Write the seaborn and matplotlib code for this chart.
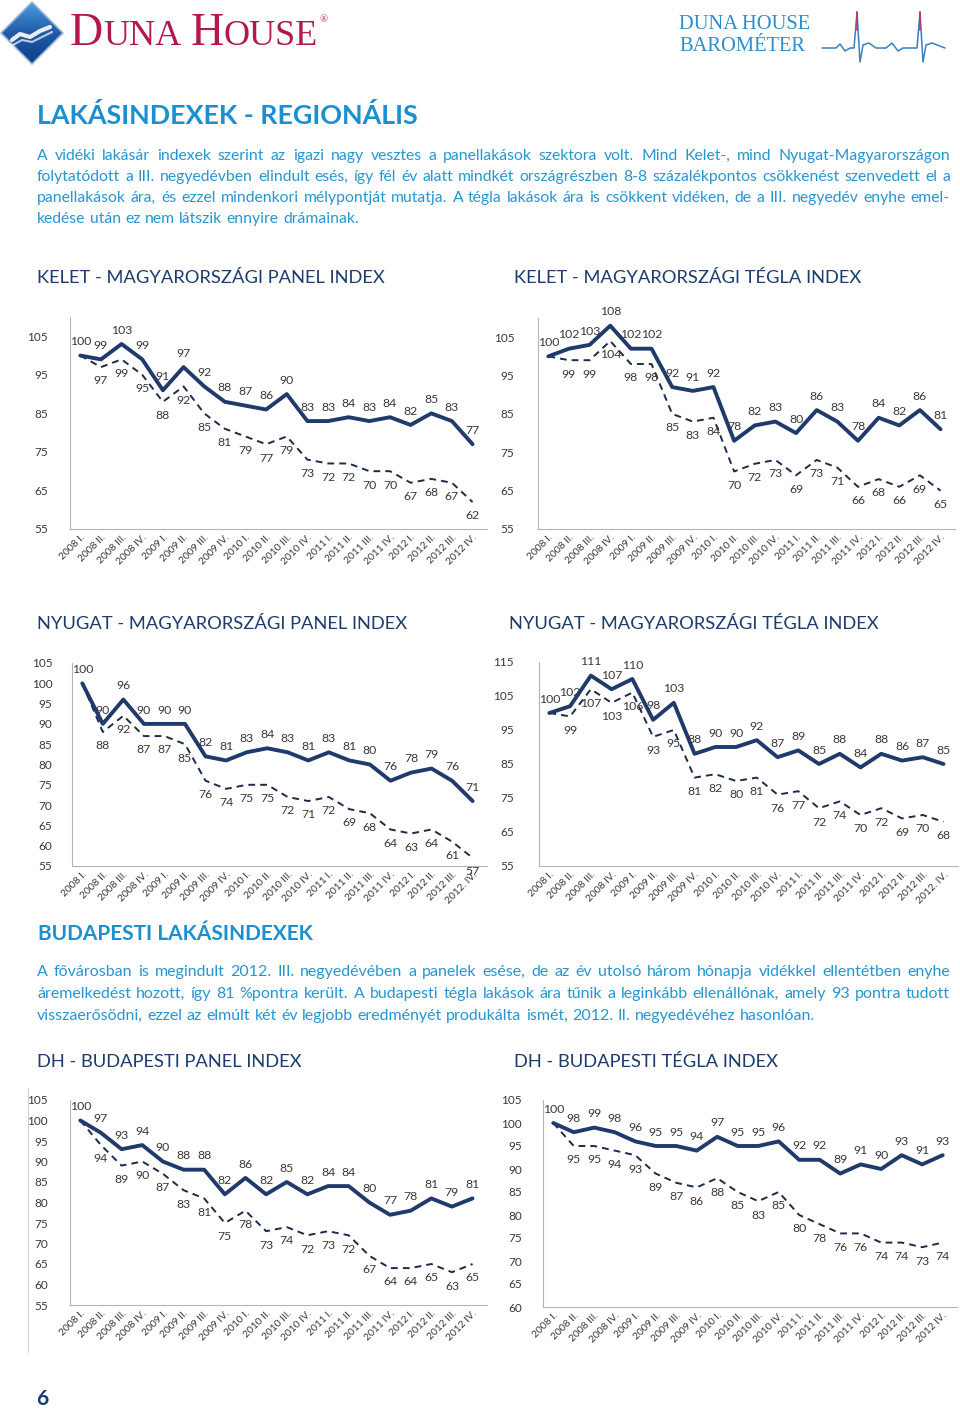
"""Duna House Barométer - regionális és budapesti lakásindexek (6. oldal)."""

import matplotlib

matplotlib.use("Agg")
import matplotlib.pyplot as plt
import numpy as np
import pandas as pd
import seaborn as sns
from matplotlib.lines import Line2D
from matplotlib.patches import Polygon

W, H = 960, 1409

NAVY = "#1f3a6b"
DASH = "#1c2b4a"
LABEL = "#383838"
TITLE_BLUE = "#1b8fd0"
TEXT_BLUE = "#2596d2"
SECTION = "#1d3b6d"
CRIMSON = "#b3174e"

QUARTERS = [
    "2008 I.", "2008 II.", "2008 III.", "2008 IV.",
    "2009 I.", "2009 II.", "2009 III.", "2009 IV.",
    "2010 I.", "2010 II.", "2010 III.", "2010 IV.",
    "2011 I.", "2011 II.", "2011 III.", "2011 IV.",
    "2012 I.", "2012 II.", "2012 III.", "2012 IV.",
]
QUARTERS_ALT = QUARTERS[:-1] + ["2012. IV."]

# Kelet-Magyarország
east_panel_solid = [100, 99, 103, 99, 91, 97, 92, 88, 87, 86, 90, 83, 83, 84, 83, 84, 82, 85, 83, 77]
east_panel_dashed = [100, 97, 99, 95, 88, 92, 85, 81, 79, 77, 79, 73, 72, 72, 70, 70, 67, 68, 67, 62]
east_brick_solid = [100, 102, 103, 108, 102, 102, 92, 91, 92, 78, 82, 83, 80, 86, 83, 78, 84, 82, 86, 81]
east_brick_dashed = [100, 99, 99, 104, 98, 98, 85, 83, 84, 70, 72, 73, 69, 73, 71, 66, 68, 66, 69, 65]

# Nyugat-Magyarország
west_panel_solid = [100, 90, 96, 90, 90, 90, 82, 81, 83, 84, 83, 81, 83, 81, 80, 76, 78, 79, 76, 71]
west_panel_dashed = [100, 88, 92, 87, 87, 85, 76, 74, 75, 75, 72, 71, 72, 69, 68, 64, 63, 64, 61, 57]
west_brick_solid = [100, 102, 111, 107, 110, 98, 103, 88, 90, 90, 92, 87, 89, 85, 88, 84, 88, 86, 87, 85]
west_brick_dashed = [100, 99, 107, 103, 106, 93, 95, 81, 82, 80, 81, 76, 77, 72, 74, 70, 72, 69, 70, 68]

# Budapest
bp_panel_solid = [100, 97, 93, 94, 90, 88, 88, 82, 86, 82, 85, 82, 84, 84, 80, 77, 78, 81, 79, 81]
bp_panel_dashed = [100, 94, 89, 90, 87, 83, 81, 75, 78, 73, 74, 72, 73, 72, 67, 64, 64, 65, 63, 65]
bp_brick_solid = [100, 98, 99, 98, 96, 95, 95, 94, 97, 95, 95, 96, 92, 92, 89, 91, 90, 93, 91, 93]
bp_brick_dashed = [100, 95, 95, 94, 93, 89, 87, 86, 88, 85, 83, 85, 80, 78, 76, 76, 74, 74, 73, 74]

PARA_1 = [
    "A vidéki lakásár indexek szerint az igazi nagy vesztes a panellakások szektora volt. Mind Kelet-, mind Nyugat-Magyarországon",
    "folytatódott a III. negyedévben elindult esés, így fél év alatt mindkét országrészben 8-8 százalékpontos csökkenést szenvedett el a",
    "panellakások ára, és ezzel mindenkori mélypontját mutatja. A tégla lakások ára is csökkent vidéken, de a III. negyedév enyhe emel-",
    "kedése után ez nem látszik ennyire drámainak.",
]
PARA_2 = [
    "A fővárosban is megindult 2012. III. negyedévében a panelek esése, de az év utolsó három hónapja vidékkel ellentétben enyhe",
    "áremelkedést hozott, így 81 %pontra került. A budapesti tégla lakások ára tűnik a leginkább ellenállónak, amely 93 pontra tudott",
    "visszaerősödni, ezzel az elmúlt két év legjobb eredményét produkálta ismét, 2012. II. negyedévéhez hasonlóan.",
]

sns.set_theme(style="white")
plt.rcParams["font.family"] = ["Lato", "DejaVu Sans"]


def fx(x):
    return x / W


def fy(y):
    return 1 - y / H


def text_width(fig, t):
    return t.get_window_extent(renderer=fig.canvas.get_renderer()).width


def justified(fig, lines, x0, x1, y0, step, size, color):
    # shrink the font if the longest line would not fit
    probe = fig.text(0, 0, "", fontsize=size)
    widths = []
    for line in lines:
        probe.set_text(line)
        widths.append(text_width(fig, probe))
    probe.remove()
    widest = max(widths)
    if widest > 0.985 * (x1 - x0):
        size *= 0.985 * (x1 - x0) / widest
    for k, line in enumerate(lines):
        y = y0 + k * step
        words = line.split(" ")
        arts = [fig.text(fx(x0), fy(y), w, fontsize=size, color=color, va="baseline") for w in words]
        wws = [text_width(fig, a) for a in arts]
        if k == len(lines) - 1:
            gap = size * 0.38
        else:
            gap = (x1 - x0 - sum(wws)) / (len(words) - 1)
        x = x0
        for a, w in zip(arts, wws):
            a.set_x(fx(x))
            x += w + gap


def draw_chart(fig, rect, solid, dashed, xlabels, ylim, yticks, ypad=15):
    left, top, right, bottom = rect
    ax = fig.add_axes([fx(left), fy(bottom), (right - left) / W, (bottom - top) / H])
    df = pd.DataFrame({"pos": np.arange(len(solid)), "solid": solid, "dashed": dashed})
    sns.lineplot(data=df, x="pos", y="dashed", ax=ax, color=DASH, lw=1.4,
                 linestyle=(0, (3.5, 2.6)))
    sns.lineplot(data=df, x="pos", y="solid", ax=ax, color=NAVY, lw=2.8,
                 solid_capstyle="round", solid_joinstyle="round")
    for i, v in enumerate(solid):
        ax.annotate(str(v), (i, v), xytext=(0, 6), textcoords="offset points",
                    ha="center", va="bottom", fontsize=8.8, color=LABEL)
    for i, v in enumerate(dashed):
        if i == 0:
            continue
        ax.annotate(str(v), (i, v), xytext=(0, -6), textcoords="offset points",
                    ha="center", va="top", fontsize=8.8, color=LABEL)
    ax.set_xlim(-0.5, 19.7)
    ax.set_ylim(*ylim)
    ax.set_yticks(yticks)
    ax.set_yticklabels([str(t) for t in yticks], fontsize=8.5, color=LABEL)
    ax.set_xticks(np.arange(len(xlabels)))
    ax.set_xticklabels(xlabels, rotation=45, ha="right", rotation_mode="anchor",
                       fontsize=7.4, color=LABEL)
    ax.tick_params(axis="y", length=0, pad=ypad)
    ax.tick_params(axis="x", length=0, pad=3)
    ax.set_xlabel("")
    ax.set_ylabel("")
    for side in ("top", "right"):
        ax.spines[side].set_visible(False)
    for side in ("left", "bottom"):
        ax.spines[side].set_color("#b5b5b5")
        ax.spines[side].set_linewidth(0.8)
    ax.set_facecolor("none")
    return ax


fig = plt.figure(figsize=(W / 100, H / 100), dpi=100)
fig.patch.set_facecolor("white")

# --- logo -------------------------------------------------------------------
logo_ax = fig.add_axes([0, 0, 1, 1])
logo_ax.set_xlim(0, W)
logo_ax.set_ylim(H, 0)
logo_ax.axis("off")
diamond = Polygon([(32, 2), (63, 33), (32, 64), (1, 33)], closed=True,
                  facecolor="none", edgecolor="none")
logo_ax.add_patch(diamond)
grad = np.linspace(0, 1, 64).reshape(-1, 1)
img = logo_ax.imshow(grad, cmap=sns.blend_palette(["#4d9be0", "#1f5aa8", "#123f85"], as_cmap=True),
                     extent=(1, 63, 64, 2), aspect="auto", zorder=1)
img.set_clip_path(diamond)
logo_ax.add_patch(Polygon([(32, 2), (63, 33), (32, 64), (1, 33)], closed=True,
                          facecolor="none", edgecolor="#9fb7d6", lw=1.2, joinstyle="round", zorder=2))
logo_ax.plot([12, 20, 30, 40, 50], [40, 34, 37, 31, 27], color="white", lw=3, alpha=0.9,
             solid_capstyle="round", zorder=3)
logo_ax.plot([13, 22, 32, 42, 52], [45, 40, 42, 37, 32], color="white", lw=1.5, alpha=0.7,
             solid_capstyle="round", zorder=3)

# small-caps "DUNA HOUSE"
pieces = [("D", 33), ("UNA", 26), (" ", 26), ("H", 33), ("OUSE", 26)]
x = 70
for s, size in pieces:
    t = fig.text(fx(x), fy(45), s, fontsize=size, color=CRIMSON, va="baseline",
                 family="Liberation Serif")
    x += text_width(fig, t)
fig.text(fx(x + 1), fy(22), "®", fontsize=7.5, color=CRIMSON, va="baseline", family="Liberation Serif")

fig.text(fx(679), fy(29), "DUNA HOUSE", fontsize=14.8, color="#2d8ccb", va="baseline",
         family="Liberation Serif")
fig.text(fx(679), fy(51), "BAROMÉTER", fontsize=14.8, color="#2d8ccb", va="baseline",
         family="Liberation Serif")
beat_x = [822, 836, 840, 845, 850, 854, 857, 860, 863, 869, 876, 886, 892, 898, 903, 917, 920, 923, 926, 932, 945]
beat_y = [48, 48, 44, 51, 48, 48, 12, 62, 45, 43, 48, 48, 43, 51, 48, 48, 12, 62, 45, 43, 48]
logo_ax.plot(beat_x, beat_y, color="#3b7fbd", lw=1.1, zorder=3)
logo_ax.plot([857, 857], [12, 30], color="#c4335f", lw=1.2, zorder=4)
logo_ax.plot([920, 920], [12, 30], color="#c4335f", lw=1.2, zorder=4)

# --- texts ------------------------------------------------------------------
fig.text(fx(37), fy(124), "LAKÁSINDEXEK - REGIONÁLIS", fontsize=19.4, fontweight="bold",
         color=TITLE_BLUE, va="baseline")
justified(fig, PARA_1, 37, 950, 160, 21, 11.6, TEXT_BLUE)

fig.text(fx(37), fy(283), "KELET - MAGYARORSZÁGI PANEL INDEX", fontsize=13.2, color=SECTION, va="baseline")
fig.text(fx(514), fy(283), "KELET - MAGYARORSZÁGI TÉGLA INDEX", fontsize=13.2, color=SECTION, va="baseline")
fig.text(fx(37), fy(629), "NYUGAT - MAGYARORSZÁGI PANEL INDEX", fontsize=13.2, color=SECTION, va="baseline")
fig.text(fx(509), fy(629), "NYUGAT - MAGYARORSZÁGI TÉGLA INDEX", fontsize=13.2, color=SECTION, va="baseline")

fig.text(fx(38), fy(940), "BUDAPESTI LAKÁSINDEXEK", fontsize=15, fontweight="bold",
         color=TITLE_BLUE, va="baseline")
justified(fig, PARA_2, 37, 950, 976, 22, 11.6, TEXT_BLUE)

fig.text(fx(37), fy(1067), "DH - BUDAPESTI PANEL INDEX", fontsize=13.2, color=SECTION, va="baseline")
fig.text(fx(514), fy(1067), "DH - BUDAPESTI TÉGLA INDEX", fontsize=13.2, color=SECTION, va="baseline")

fig.text(fx(36), fy(1405), "6", fontsize=15, fontweight="bold", color="#173a72", va="baseline")
fig.add_artist(Line2D([fx(28), fx(28)], [fy(1088), fy(1352)], color="#d0d0d0", lw=0.8))

# --- charts -----------------------------------------------------------------
draw_chart(fig, (70, 317, 487, 529), east_panel_solid, east_panel_dashed, QUARTERS,
           (55, 110), [55, 65, 75, 85, 95, 105], ypad=16)
draw_chart(fig, (538, 318, 955, 529), east_brick_solid, east_brick_dashed, QUARTERS,
           (55, 110), [55, 65, 75, 85, 95, 105], ypad=17)
draw_chart(fig, (72, 663, 487, 866), west_panel_solid, west_panel_dashed, QUARTERS_ALT,
           (55, 105), list(range(55, 106, 5)), ypad=14)
draw_chart(fig, (539, 662, 958, 866), west_brick_solid, west_brick_dashed, QUARTERS_ALT,
           (55, 115), [55, 65, 75, 85, 95, 105, 115], ypad=18)
draw_chart(fig, (70, 1100, 487, 1305), bp_panel_solid, bp_panel_dashed, QUARTERS,
           (55, 105), list(range(55, 106, 5)), ypad=16)
draw_chart(fig, (543, 1100, 957, 1307), bp_brick_solid, bp_brick_dashed, QUARTERS,
           (60, 105), list(range(60, 106, 5)), ypad=15)

fig.savefig("out.png", dpi=100, facecolor="white")
